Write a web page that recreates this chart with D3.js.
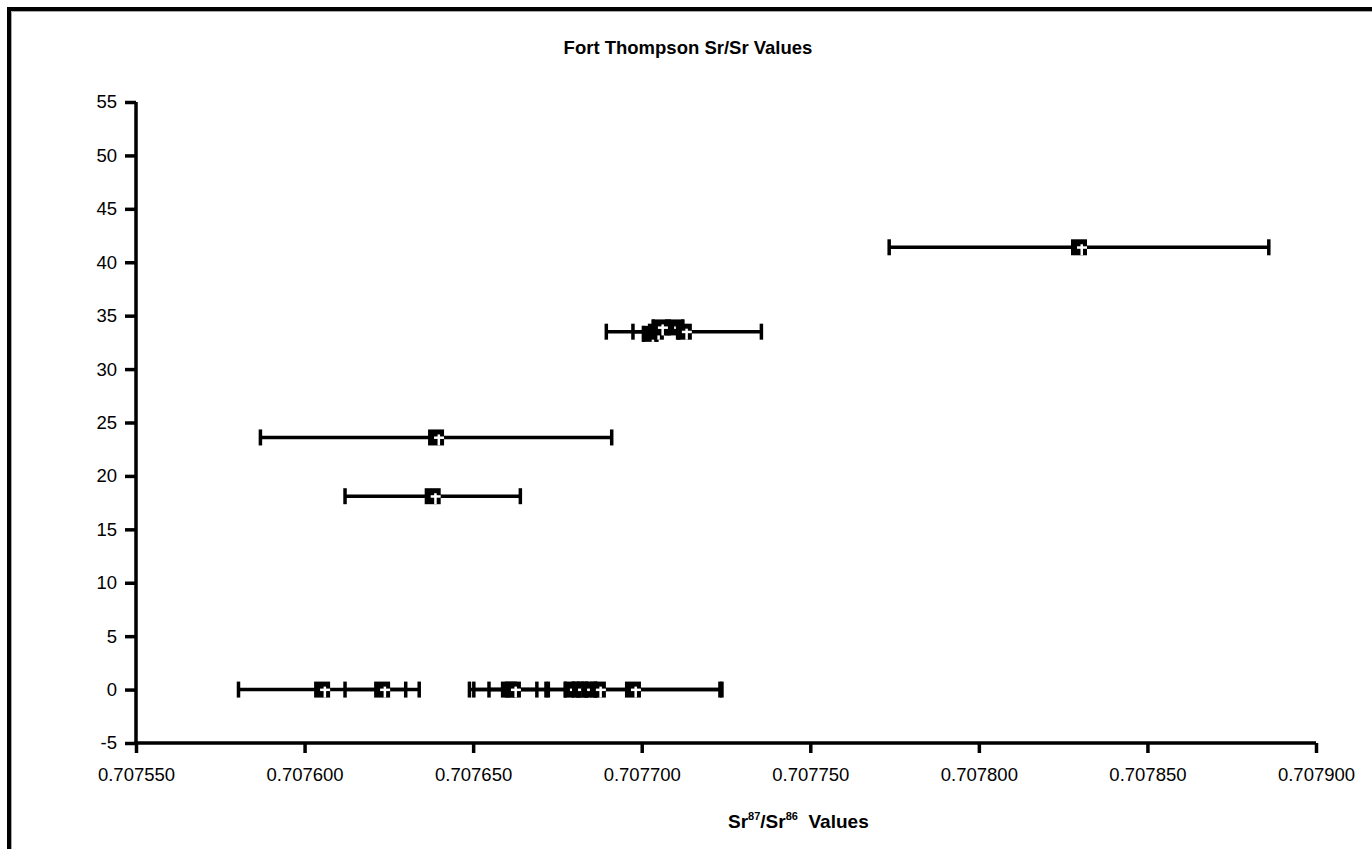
<!DOCTYPE html>
<html>
<head>
<meta charset="utf-8">
<script src="https://cdn.jsdelivr.net/npm/d3@7"></script>
<style>
  html, body { margin: 0; padding: 0; background: #fff; }
  svg { display: block; }
  text { font-family: "Liberation Sans", Arial, sans-serif; fill: #000; }
</style>
</head>
<body>
<svg id="chart" width="1372" height="849"></svg>
<script>
// Sr87/Sr86 ratios (x), sample depth / group (y) and 2-sigma errors (±x)
const ratios = [
  0.7076052, 0.7076230, 0.7076606, 0.7076618, 0.7076793, 0.7076817, 0.7076844, 0.7076870, 0.7076974,
  0.7076380, 0.7076390,
  0.7077025, 0.7077042, 0.7077054, 0.7077102, 0.7077125,
  0.7078297
];
const depths = [
  0, 0, 0, 0, 0, 0, 0, 0, 0,
  18.1, 23.6,
  33.3, 33.5, 33.9, 33.9, 33.5,
  41.4
];
const errors = [
  0.0000248, 0.0000110, 0.0000117, 0.0000071, 0.0000020, 0.0000020, 0.0000020, 0.0000368, 0.0000258,
  0.0000260, 0.0000521,
  0.0000020, 0.0000068, 0.0000020, 0.0000020, 0.0000230,
  0.0000563
];
const xTicks = [0.707550, 0.707600, 0.707650, 0.707700, 0.707750, 0.707800, 0.707850, 0.707900];
const yTicks = [-5, 0, 5, 10, 15, 20, 25, 30, 35, 40, 45, 50, 55];

const points = ratios.map((r, i) => ({ x: r, y: depths[i], e: errors[i] }));

const svg = d3.select("#chart");

// frame
svg.append("path")
  .attr("d", "M9,850 V9 H1373")
  .attr("fill", "none").attr("stroke", "#000").attr("stroke-width", 4);
svg.append("path")
  .attr("d", "M11.5,850 V11.5 H1373")
  .attr("fill", "none").attr("stroke", "#aaa").attr("stroke-width", 1);

const x = d3.scaleLinear().domain([0.707550, 0.707900]).range([136, 1316]);
const y = d3.scaleLinear().domain([-5, 55]).range([743, 102]);

// axes
const yAxis = svg.append("g")
  .attr("transform", `translate(${x.range()[0]},0)`)
  .call(d3.axisLeft(y).tickValues(yTicks).tickSize(11).tickPadding(8).tickFormat(d => String(d)));
const xAxis = svg.append("g")
  .attr("transform", `translate(0,${y.range()[0]})`)
  .call(d3.axisBottom(x).tickValues(xTicks).tickSize(10).tickPadding(15).tickFormat(d3.format(".6f")));

[yAxis, xAxis].forEach(g => {
  g.attr("font-size", null).attr("font-family", null);
  g.select(".domain").attr("stroke", "#000").attr("stroke-width", 3.5)
    .attr("d", g === yAxis ? `M0,${y.range()[1]}V${y.range()[0] + 1.75}` : `M${x.range()[0] - 1.75},0H${x.range()[1]}`);
  g.selectAll(".tick line").attr("stroke", "#000").attr("stroke-width", 3.5);
  g.selectAll(".tick text").attr("font-size", 18.5).attr("font-family", "Liberation Sans, Arial, sans-serif");
});

// error bars
const capH = 8;
const bars = svg.append("g").attr("stroke", "#000").attr("stroke-width", 3.5).attr("fill", "none");
points.forEach(p => {
  const x0 = x(p.x - p.e), x1 = x(p.x + p.e), yy = y(p.y);
  bars.append("line").attr("x1", x0).attr("x2", x1).attr("y1", yy).attr("y2", yy);
  bars.append("line").attr("x1", x0).attr("x2", x0).attr("y1", yy - capH).attr("y2", yy + capH);
  bars.append("line").attr("x1", x1).attr("x2", x1).attr("y1", yy - capH).attr("y2", yy + capH);
});

// square markers with a white cross
const ms = 16;
const marks = svg.append("g");
points.forEach(p => {
  const cx = x(p.x), cy = y(p.y);
  const m = marks.append("g").attr("transform", `translate(${cx},${cy})`);
  m.append("rect").attr("x", -ms / 2).attr("y", -ms / 2).attr("width", ms).attr("height", ms).attr("fill", "#000");
  m.append("rect").attr("x", 1.5).attr("y", -3).attr("width", 2.5).attr("height", ms / 2 + 3).attr("fill", "#fff");
  m.append("rect").attr("x", -2).attr("y", -1).attr("width", ms / 2 + 2).attr("height", 2.5).attr("fill", "#fff");
});

// title
svg.append("text")
  .attr("x", 688).attr("y", 54)
  .attr("text-anchor", "middle")
  .attr("font-size", 18.5).attr("font-weight", "bold")
  .text("Fort Thompson Sr/Sr Values");

// x axis title with superscripts
const xt = svg.append("text")
  .attr("x", 728).attr("y", 828)
  .attr("text-anchor", "start")
  .attr("font-size", 19).attr("font-weight", "bold");
xt.append("tspan").text("Sr");
xt.append("tspan").attr("font-size", 11).attr("dy", -8).text("87");
xt.append("tspan").attr("dy", 8).text("/Sr");
xt.append("tspan").attr("font-size", 11).attr("dy", -8).text("86");
xt.append("tspan").attr("dy", 8).text("\u00a0\u00a0Values");
</script>
</body>
</html>
